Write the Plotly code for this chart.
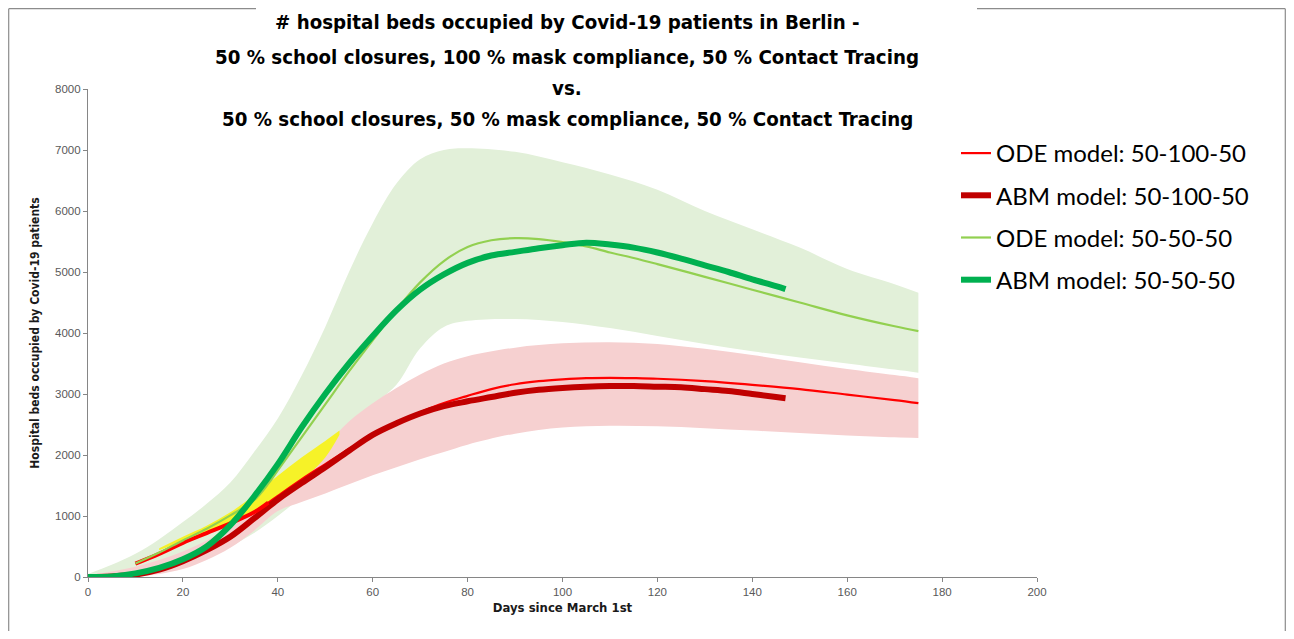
import plotly.graph_objects as go

# ---------------- data ----------------
band_days = [0, 5, 10, 15, 20, 25, 30, 35, 40, 45, 50, 55, 60, 65, 70, 75, 80,
             90, 100, 110, 120, 130, 140, 150, 160, 170, 175]

green_upper = [50, 200, 380, 620, 900, 1200, 1550, 2050, 2600, 3300, 4100, 5000,
               5800, 6450, 6850, 7000, 7030, 6970, 6800, 6600, 6350, 6000, 5700,
               5400, 5050, 4800, 4660]
green_lower = [0, 5, 20, 70, 150, 300, 500, 720, 1000, 1320, 1700, 2300, 2800,
               3150, 3750, 4100, 4200, 4230, 4180, 4080, 3950, 3820, 3700, 3600,
               3500, 3400, 3350]

pink_upper = [30, 90, 170, 280, 420, 600, 820, 1080, 1380, 1750, 2150, 2550, 2850,
              3100, 3320, 3500, 3620, 3760, 3830, 3850, 3820, 3740, 3640, 3520,
              3410, 3310, 3260]
pink_lower = [0, 3, 10, 50, 130, 280, 480, 760, 1080, 1230, 1370, 1520, 1670,
              1800, 1930, 2050, 2170, 2350, 2450, 2480, 2470, 2440, 2400, 2360,
              2320, 2290, 2280]

yellow_days = [15, 20, 25, 30, 35, 40, 45, 50, 53]
yellow_upper = [470, 660, 840, 1060, 1340, 1660, 1960, 2230, 2400]
yellow_lower = [440, 580, 740, 900, 1080, 1320, 1580, 1960, 2330]

abm_days = [0, 5, 10, 15, 20, 25, 30, 35, 40, 45, 50, 55, 60, 65, 70, 75, 80, 85,
            90, 95, 100, 105, 110, 115, 120, 125, 130, 135, 140, 145, 147]
abm_red = [0, 10, 40, 120, 260, 440, 660, 960, 1270, 1540, 1800, 2070, 2330, 2520,
           2680, 2800, 2880, 2950, 3020, 3070, 3100, 3120, 3130, 3130, 3120, 3110,
           3080, 3050, 3000, 2950, 2930]
abm_green = [0, 10, 60, 150, 290, 500, 850, 1320, 1850, 2450, 3000, 3500, 3950,
             4370, 4710, 4960, 5150, 5270, 5330, 5390, 5440, 5480, 5450, 5400,
             5320, 5220, 5110, 5000, 4880, 4770, 4720]

ode_days = [10, 15, 20, 25, 30, 35, 38, 40, 45, 50, 55, 60, 65, 70, 75, 80, 85, 90,
            95, 100, 105, 110, 115, 120, 130, 140, 150, 160, 170, 175]
ode_red = [220, 380, 560, 720, 880, 1060, 1220, 1330, 1600, 1850, 2100, 2330, 2530,
           2700, 2850, 2970, 3080, 3160, 3210, 3240, 3260, 3265, 3260, 3250, 3210,
           3150, 3080, 2990, 2900, 2850]
ode_green = [220, 400, 600, 790, 1010, 1260, 1530, 1750, 2290, 2830, 3370, 3880,
             4380, 4830, 5180, 5410, 5520, 5555, 5540, 5490, 5420, 5320, 5230, 5130,
             4920, 4710, 4500, 4290, 4110, 4030]

ode_fit_days = [10, 15, 20, 25, 30, 35, 38]
ode_fit_red = [220, 380, 560, 720, 880, 1060, 1220]

title_lines = [
    "# hospital beds occupied by Covid-19 patients in Berlin -",
    "50 % school closures, 100 % mask compliance, 50 % Contact Tracing",
    "vs.",
    "50 % school closures, 50 % mask compliance, 50 % Contact Tracing",
]
x_ticks = list(range(0, 201, 20))
y_ticks = list(range(0, 8001, 1000))

# ---------------- layout constants (pixels) ----------------
# the page body has an 8 px margin on every side; the figure is sized so that
# no scrollbars appear, and page-pixel positions are shifted by that offset
OFF = 8
W, H = 1294 - 2 * OFF, 639 - 2 * OFF
L, T = 88 - OFF, 89 - OFF
R = W - (1037 - OFF)
B = H - (577 - OFF)
PW, PH = W - L - R, H - T - B


def px_x(px):
    return (px - OFF - L) / PW


def px_y(py):
    return (H - B - (py - OFF)) / PH


C_GREEN_BAND = "rgb(226,240,217)"
C_PINK_BAND = "rgb(246,208,208)"
C_YELLOW = "rgb(246,242,40)"
C_ODE_RED = "#ff0000"
C_ABM_RED = "#c00000"
C_ODE_GREEN = "#92d050"
C_ABM_GREEN = "#00b050"

fig = go.Figure()


def band(xs, lo, hi, color):
    fig.add_trace(go.Scatter(x=xs, y=lo, mode="lines", line=dict(width=0, shape="spline"),
                             showlegend=False, hoverinfo="skip"))
    fig.add_trace(go.Scatter(x=xs, y=hi, mode="lines", line=dict(width=0, shape="spline"),
                             fill="tonexty", fillcolor=color, showlegend=False,
                             hoverinfo="skip"))


band(band_days, green_lower, green_upper, C_GREEN_BAND)
band(band_days, pink_lower, pink_upper, C_PINK_BAND)
band(yellow_days, yellow_lower, yellow_upper, C_YELLOW)

# lines
fig.add_trace(go.Scatter(x=ode_days, y=ode_red, mode="lines", name="ODE model: 50-100-50",
                         line=dict(color=C_ODE_RED, width=2.2, shape="spline"),
                         legendgroup="a", legendrank=1))
fig.add_trace(go.Scatter(x=abm_days, y=abm_red, mode="lines", name="ABM model: 50-100-50",
                         line=dict(color=C_ABM_RED, width=6, shape="spline"),
                         legendgroup="b", legendrank=2))
fig.add_trace(go.Scatter(x=ode_fit_days, y=ode_fit_red, mode="lines", showlegend=False,
                         line=dict(color=C_ODE_RED, width=4, shape="spline"),
                         hoverinfo="skip"))
fig.add_trace(go.Scatter(x=ode_days, y=ode_green, mode="lines", name="ODE model: 50-50-50",
                         line=dict(color=C_ODE_GREEN, width=2.2, shape="spline"),
                         legendgroup="c", legendrank=3))
fig.add_trace(go.Scatter(x=abm_days, y=abm_green, mode="lines", name="ABM model: 50-50-50",
                         line=dict(color=C_ABM_GREEN, width=6, shape="spline"),
                         legendgroup="d", legendrank=4))

AX_COLOR = "#868686"
TICK_FONT = dict(family="Liberation Sans, Arial, sans-serif", size=11.5, color="#595959")
TITLE_FONT_FAMILY = "Liberation Sans Narrow, Arial Narrow, DejaVu Sans Condensed, Lato, sans-serif"

fig.update_xaxes(range=[0, 200], tickvals=x_ticks, showgrid=False, zeroline=False,
                 showline=True, linecolor=AX_COLOR, linewidth=1.2, ticks="outside",
                 ticklen=4, tickcolor=AX_COLOR, tickfont=TICK_FONT, automargin=False,
                 title=dict(text="<b>Days since March 1st</b>", standoff=5,
                            font=dict(family=TITLE_FONT_FAMILY, size=13, color="#1a1a1a")))
fig.update_yaxes(range=[0, 8000], tickvals=y_ticks, showgrid=False, zeroline=False,
                 showline=True, linecolor=AX_COLOR, linewidth=1.2, ticks="outside",
                 ticklen=4, tickcolor=AX_COLOR, tickfont=TICK_FONT, automargin=False,
                 title=dict(text="<b>Hospital beds occupied by Covid-19 patients</b>",
                            standoff=12,
                            font=dict(family=TITLE_FONT_FAMILY, size=12, color="#1a1a1a")))

annotations = []
for text, ypx in zip(title_lines, [22, 57, 88, 119]):
    annotations.append(dict(text="<b>" + text + "</b>", xref="paper", yref="paper",
                            x=px_x(567), y=px_y(ypx), xanchor="center", yanchor="middle",
                            showarrow=False,
                            font=dict(family=TITLE_FONT_FAMILY, size=20.3, color="#000000")))

# outer frame of the chart area (broken at the top by the title box)
frame = dict(type="line", xref="paper", yref="paper",
             line=dict(color="#8c8c8c", width=1.2))
x_left, x_right, y_top, y_bot = OFF + 0.7, OFF + W - 0.7, OFF + 0.7, OFF + H
shapes = [
    dict(frame, x0=px_x(x_left), x1=px_x(x_left), y0=px_y(y_top), y1=px_y(y_bot)),
    dict(frame, x0=px_x(x_right), x1=px_x(x_right), y0=px_y(y_top), y1=px_y(y_bot)),
    dict(frame, x0=px_x(x_left), x1=px_x(256), y0=px_y(y_top), y1=px_y(y_top)),
    dict(frame, x0=px_x(977), x1=px_x(x_right), y0=px_y(y_top), y1=px_y(y_top)),
]

fig.update_layout(
    width=W, height=H,
    margin=dict(l=L, r=R, t=T, b=B, pad=0, autoexpand=False),
    plot_bgcolor="white", paper_bgcolor="white",
    annotations=annotations, shapes=shapes,
    legend=dict(x=px_x(956), y=px_y(131), xanchor="left", yanchor="top",
                font=dict(family="Lato, Open Sans, sans-serif", size=24, color="#000000"),
                tracegroupgap=8, traceorder="grouped", bgcolor="rgba(0,0,0,0)",
                itemwidth=30),
    showlegend=True,
)

fig.write_html("out.html")
